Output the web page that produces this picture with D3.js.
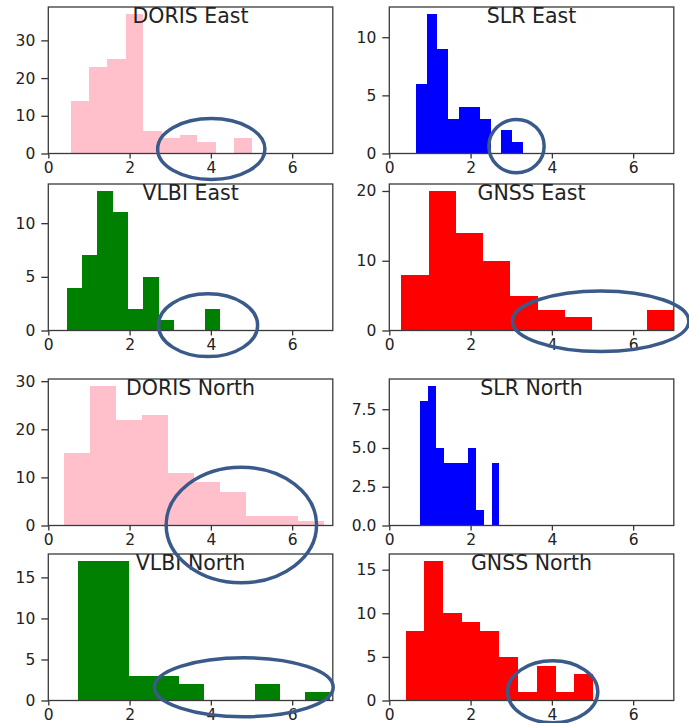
<!DOCTYPE html>
<html>
<head>
<meta charset="utf-8">
<script src="https://cdn.jsdelivr.net/npm/d3@7"></script>
<style>
  body { margin: 0; background: #fff; }
  text { font-family: 'DejaVu Sans', sans-serif; fill: #222; }
</style>
</head>
<body>
<div class="main-content"></div>
<script>
// one entry per panel, read left to right, top to bottom
const titles = ['DORIS East', 'SLR East', 'VLBI East', 'GNSS East',
  'DORIS North', 'SLR North', 'VLBI North', 'GNSS North']
const colors = ['pink', 'blue', 'green', 'red', 'pink', 'blue', 'green', 'red']
const binEdges = [
  [0.56, 1.01, 1.45, 1.90, 2.34, 2.79, 3.23, 3.67, 4.12, 4.56, 5.00],
  [0.66, 0.92, 1.18, 1.45, 1.71, 1.97, 2.24, 2.50, 2.76, 3.03, 3.29],
  [0.45, 0.83, 1.21, 1.58, 1.96, 2.34, 2.72, 3.10, 3.48, 3.85, 4.23],
  [0.30, 0.97, 1.64, 2.31, 2.98, 3.65, 4.32, 4.99, 5.66, 6.33, 7.00],
  [0.39, 1.03, 1.67, 2.31, 2.95, 3.59, 4.23, 4.87, 5.51, 6.15, 6.79],
  [0.76, 0.96, 1.15, 1.35, 1.54, 1.74, 1.93, 2.13, 2.32, 2.52, 2.71],
  [0.74, 1.36, 1.98, 2.60, 3.22, 3.84, 4.46, 5.08, 5.70, 6.32, 6.94],
  [0.40, 0.86, 1.32, 1.78, 2.24, 2.71, 3.17, 3.63, 4.09, 4.55, 5.01]
]
const counts = [
  [14, 23, 25, 37, 6, 4, 5, 3, 0, 4],
  [6, 12, 9, 3, 4, 4, 3, 0, 2, 1],
  [4, 7, 13, 11, 2, 5, 1, 0, 0, 2],
  [8, 20, 14, 10, 5, 3, 2, 0, 0, 3],
  [15, 29, 22, 23, 11, 9, 7, 2, 2, 1],
  [8, 9, 5, 4, 4, 4, 5, 1, 0, 4],
  [17, 17, 3, 3, 2, 0, 0, 2, 0, 1],
  [8, 16, 10, 9, 8, 5, 1, 4, 1, 3]
]
const yTicks = [
  [0, 10, 20, 30], [0, 5, 10], [0, 5, 10], [0, 10, 20],
  [0, 10, 20, 30], [0, 2.5, 5, 7.5], [0, 5, 10, 15], [0, 5, 10, 15]
]
const yTickFormats = ['d', 'd', 'd', 'd', 'd', '.1f', 'd', 'd']
const xTicks = [0, 2, 4, 6]
const xDomain = [0, 7]

// hand drawn rings, in the data units of the panel they sit on
const ringPanel = [0, 1, 2, 3, 4, 6, 7]
const ringCx = [4.01, 3.13, 3.93, 5.20, 4.75, 4.81, 4.02]
const ringCy = [1.19, 0.63, 0.50, 1.34, 0.10, 1.61, 1.00]
const ringRx = [1.32, 0.68, 1.22, 2.17, 1.85, 2.20, 1.11]
const ringRy = [8.06, 2.29, 2.93, 4.34, 12.0, 3.59, 3.55]

const svgWidth = 689
const svgHeight = 723
const colLeft = [48.3, 389.3]
const plotWidth = 284.5
const rowTop = [7, 184, 379, 554]
const plotHeight = 146.5
const yTickLength = 7
const xTickLength = 5
const tickFontSize = 15.5
const titleFontSize = 20.5
const ringColor = '#3a5a8a'

var svg = d3.select('.main-content')
  .append('svg')
  .attr('width', svgWidth)
  .attr('height', svgHeight)

var xScales = []
var yScales = []

function drawPanel(i) {
  var left = colLeft[i % 2]
  var top = rowTop[Math.floor(i / 2)]
  var x = d3.scaleLinear().domain(xDomain).range([left, left + plotWidth])
  var yMax = d3.max(counts[i]) * 1.05
  var y = d3.scaleLinear().domain([0, yMax]).range([top + plotHeight, top])
  xScales.push(x)
  yScales.push(y)

  var g = svg.append('g').attr('class', 'panel')

  var clipId = 'clip' + i
  g.append('clipPath')
    .attr('id', clipId)
    .append('rect')
    .attr('x', left)
    .attr('y', top)
    .attr('width', plotWidth)
    .attr('height', plotHeight)

  var bins = counts[i].map(function(c, j) {
    return { x0: binEdges[i][j], x1: binEdges[i][j + 1], count: c }
  })

  // rounded edges so neighbouring bars of equal height show no seam
  g.append('g')
    .attr('clip-path', 'url(#' + clipId + ')')
    .selectAll('rect')
    .data(bins.filter(function(d) { return d.count > 0 }))
    .enter()
    .append('rect')
    .attr('x', function(d) { return Math.round(x(d.x0)) })
    .attr('width', function(d) { return Math.round(x(d.x1)) - Math.round(x(d.x0)) })
    .attr('y', function(d) { return y(d.count) })
    .attr('height', function(d) { return y(0) - y(d.count) })
    .attr('fill', colors[i])
    .attr('shape-rendering', 'crispEdges')

  var xAxis = d3.axisBottom(x)
    .tickValues(xTicks)
    .tickSize(xTickLength)
    .tickPadding(3)
    .tickFormat(d3.format('d'))
  g.append('g')
    .attr('transform', 'translate(0,' + (top + plotHeight) + ')')
    .call(xAxis)
    .call(function(a) { a.select('.domain').remove() })

  var yAxis = d3.axisLeft(y)
    .tickValues(yTicks[i])
    .tickSize(yTickLength)
    .tickPadding(6)
    .tickFormat(d3.format(yTickFormats[i]))
  g.append('g')
    .attr('transform', 'translate(' + left + ',0)')
    .call(yAxis)
    .call(function(a) { a.select('.domain').remove() })

  g.selectAll('.tick line').attr('stroke', '#333').attr('stroke-width', 1.3)
  g.selectAll('.tick text')
    .attr('font-family', "'DejaVu Sans', sans-serif")
    .attr('font-size', tickFontSize)
    .attr('fill', '#1e1e1e')

  g.append('rect')
    .attr('x', left)
    .attr('y', top)
    .attr('width', plotWidth)
    .attr('height', plotHeight)
    .attr('fill', 'none')
    .attr('stroke', '#3a3a3a')
    .attr('stroke-width', 1.3)

  g.append('text')
    .attr('x', left + plotWidth / 2)
    .attr('y', top + 15.5)
    .attr('text-anchor', 'middle')
    .attr('font-size', titleFontSize)
    .attr('fill', '#1e1e1e')
    .text(titles[i])
}

for (var i = 0; i < titles.length; i++) {
  drawPanel(i)
}

// rings go on top of everything
svg.append('g')
  .selectAll('ellipse')
  .data(ringPanel)
  .enter()
  .append('ellipse')
  .attr('cx', function(p, k) { return xScales[p](ringCx[k]) })
  .attr('cy', function(p, k) { return yScales[p](ringCy[k]) })
  .attr('rx', function(p, k) { return xScales[p](ringRx[k]) - xScales[p](0) })
  .attr('ry', function(p, k) { return yScales[p](0) - yScales[p](ringRy[k]) })
  .attr('fill', 'none')
  .attr('stroke', ringColor)
  .attr('stroke-width', 3.5)
</script>
</body>
</html>
